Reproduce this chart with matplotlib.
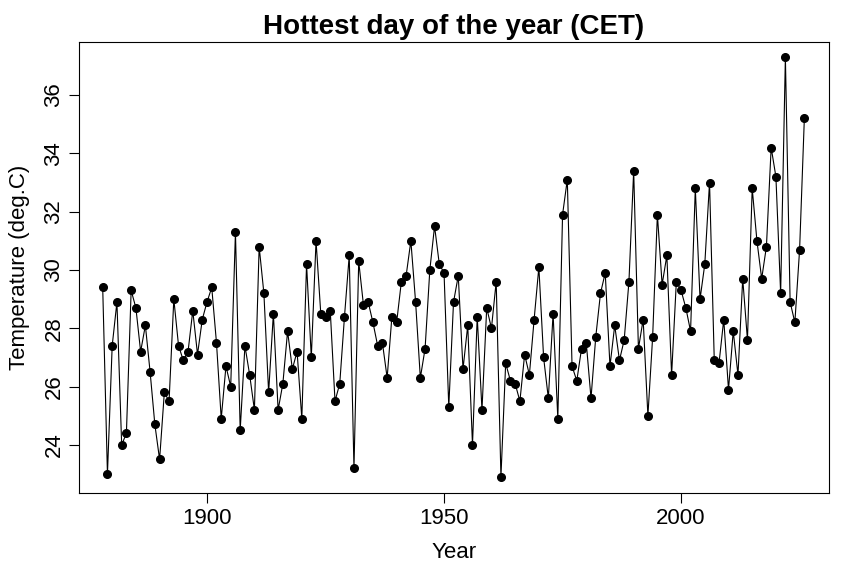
import matplotlib
matplotlib.use('Agg')
import matplotlib.pyplot as plt
import numpy as np

start_year = 1878
temps = [29.4, 23.0, 27.4, 28.9, 24.0, 24.4, 29.3, 28.7, 27.2, 28.1,
         26.5, 24.7, 23.5, 25.8, 25.5, 29.0, 27.4, 26.9, 27.2, 28.6,
         27.1, 28.3, 28.9, 29.4, 27.5, 24.9, 26.7, 26.0, 31.3, 24.5,
         27.4, 26.4, 25.2, 30.8, 29.2, 25.8, 28.5, 25.2, 26.1, 27.9,
         26.6, 27.2, 24.9, 30.2, 27.0, 31.0, 28.5, 28.4, 28.6, 25.5,
         26.1, 28.4, 30.5, 23.2, 30.3, 28.8, 28.9, 28.2, 27.4, 27.5,
         26.3, 28.4, 28.2, 29.6, 29.8, 31.0, 28.9, 26.3, 27.3, 30.0,
         31.5, 30.2, 29.9, 25.3, 28.9, 29.8, 26.6, 28.1, 24.0, 28.4,
         25.2, 28.7, 28.0, 29.6, 22.9, 26.8, 26.2, 26.1, 25.5, 27.1,
         26.4, 28.3, 30.1, 27.0, 25.6, 28.5, 24.9, 31.9, 33.1, 26.7,
         26.2, 27.3, 27.5, 25.6, 27.7, 29.2, 29.9, 26.7, 28.1, 26.9,
         27.6, 29.6, 33.4, 27.3, 28.3, 25.0, 27.7, 31.9, 29.5, 30.5,
         26.4, 29.6, 29.3, 28.7, 27.9, 32.8, 29.0, 30.2, 33.0, 26.9,
         26.8, 28.3, 25.9, 27.9, 26.4, 29.7, 27.6, 32.8, 31.0, 29.7,
         30.8, 34.2, 33.2, 29.2, 37.3, 28.9, 28.2, 30.7, 35.2]
years = np.arange(start_year, start_year + len(temps))

plt.rcParams['font.family'] = ['Liberation Sans', 'DejaVu Sans']

fig = plt.figure(figsize=(8.64, 5.75), dpi=100)
ax = fig.add_axes([79/864, 1 - 493/575, (829-79)/864, (493-42)/575])
ax.plot(years, temps, color='black', lw=0.8, marker='o', ms=5.5)

ax.set_xlim(1873, 2031.2)
ax.set_ylim(22.35, 37.82)
ax.set_xticks([1900, 1950, 2000])
ax.set_yticks([24, 26, 28, 30, 32, 34, 36])
ax.tick_params(labelsize=16, length=7)
for lab in ax.get_yticklabels():
    lab.set_rotation(90)
    lab.set_va('center')
ax.set_xlabel('Year', fontsize=16, labelpad=10)
ax.set_ylabel('Temperature (deg.C)', fontsize=16, labelpad=10)
ax.set_title('Hottest day of the year (CET)', fontsize=20, fontweight='bold', pad=6)

fig.savefig('out.png', dpi=100)
